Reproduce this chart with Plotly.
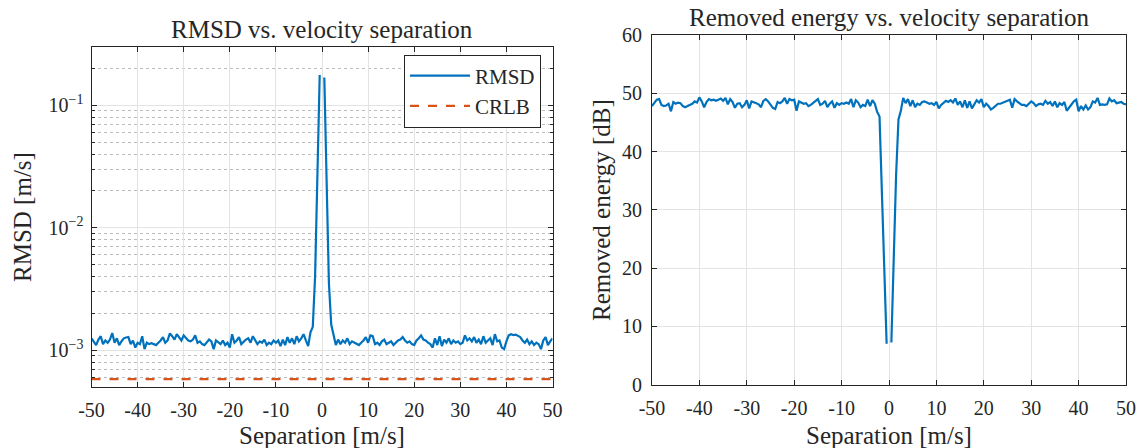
import plotly.graph_objects as go

# ---------------- data ----------------
sep = [round(-50 + 0.5 * i, 1) for i in range(201)]

rmsd_e3 = [
    1.25, 1.18, 1.10, 1.22, 1.30, 1.12, 1.20, 1.15, 1.22, 1.38, 1.15, 1.25, 1.10, 1.18, 1.25, 1.27, 1.28, 1.12, 1.20, 1.05,
    1.15, 1.12, 1.30, 1.02, 1.15, 1.12, 1.14, 1.12, 1.10, 1.15, 1.20, 1.28, 1.15, 1.20, 1.37, 1.30, 1.22, 1.35, 1.28, 1.20,
    1.32, 1.25, 1.20, 1.18, 1.22, 1.32, 1.15, 1.18, 1.12, 1.10, 1.15, 1.22, 1.18, 1.02, 1.20, 1.15, 1.12, 1.20, 1.10, 1.15,
    1.05, 1.35, 1.15, 1.20, 1.28, 1.12, 1.18, 1.22, 1.25, 1.15, 1.30, 1.20, 1.12, 1.18, 1.15, 1.22, 1.10, 1.15, 1.12, 1.20,
    1.15, 1.20, 1.08, 1.22, 1.10, 1.28, 1.15, 1.25, 1.12, 1.30, 1.18, 1.25, 1.35, 1.20, 1.08, 1.40, 1.55, 4.0, 25.0, 177.0,
    None,
    169.0, 20.0, 3.5, 1.62, 1.30, 1.10, 1.22, 1.12, 1.20, 1.15, 1.25,
    1.12, 1.18, 1.15, 1.12, 1.10, 1.15, 1.20, 1.28, 1.15, 1.32, 1.30, 1.12, 1.15, 1.10, 1.18, 1.22, 1.12, 1.15, 1.18, 1.10,
    1.15, 1.20, 1.22, 1.28, 1.20, 1.15, 1.18, 1.12, 1.10, 1.20, 1.25, 1.32, 1.22, 1.20, 1.15, 1.12, 1.05, 1.25, 1.10, 1.30,
    1.08, 1.22, 1.15, 1.25, 1.12, 1.20, 1.15, 1.18, 1.12, 1.15, 1.32, 1.20, 1.25, 1.18, 1.28, 1.15, 1.22, 1.12, 1.30, 1.15,
    1.20, 1.25, 1.10, 1.35, 1.18, 1.20, 1.05, 1.02, 1.18, 1.32, 1.35, 1.33, 1.34, 1.30, 1.28, 1.20, 1.15, 1.22, 1.12, 1.18,
    1.10, 1.15, 1.12, 1.02, 1.20, 1.28, 1.10, 1.18, 1.25,
]
rmsd = [None if v is None else v * 1e-3 for v in rmsd_e3]

crlb_value = 5.8e-4
crlb = [crlb_value for _ in sep]

energy_db = [
    47.8, 48.3, 48.9, 49.0, 48.0, 47.8, 47.9, 48.2, 46.9, 48.5, 48.2, 48.4, 48.3, 47.8, 47.6, 47.8, 48.0, 48.2, 48.6, 48.4,
    49.3, 48.6, 47.6, 48.5, 49.0, 48.8, 48.9, 48.7, 48.9, 49.1, 48.7, 49.2, 48.1, 49.0, 48.5, 47.5, 48.2, 48.3, 47.6, 48.0,
    48.8, 47.4, 48.6, 48.5, 48.3, 48.1, 47.6, 48.7, 49.0, 48.6, 48.0, 47.5, 47.3, 48.5, 48.3, 48.6, 49.2, 48.2, 49.0, 48.8,
    48.9, 47.0, 48.6, 48.4, 48.2, 48.3, 47.8, 48.0, 48.3, 48.6, 49.0, 48.0, 48.2, 48.7, 47.6, 48.2, 48.6, 47.5, 48.3, 48.0,
    48.3, 48.2, 48.4, 48.2, 49.0, 47.6, 48.8, 48.4, 47.6, 48.0, 47.8, 48.9, 47.8, 48.8, 48.2, 46.8, 46.0, 33.0, 20.0, 7.0,
    None,
    7.2, 22.0, 36.0, 45.5, 47.0, 49.2, 48.3, 49.0, 47.8, 48.8, 47.6,
    48.2, 48.0, 48.5, 48.6, 48.4, 48.2, 48.3, 48.0, 48.5, 47.4, 48.0, 48.4, 48.7, 48.5, 48.8, 48.4, 49.1, 48.0, 48.6, 47.6,
    48.8, 47.5, 48.6, 47.4, 48.0, 48.8, 48.4, 49.0, 47.6, 48.2, 47.8, 47.2, 47.5, 47.9, 48.2, 48.2, 48.4, 48.5, 48.7, 48.9,
    47.5, 49.0, 48.6, 48.3, 48.0, 48.0, 47.8, 48.2, 48.6, 48.3, 47.8, 48.1, 48.2, 48.0, 48.7, 48.2, 48.5, 47.8, 48.6, 47.6,
    48.3, 48.0, 48.5, 47.0, 47.6, 48.2, 48.6, 48.9, 46.9, 47.8, 47.2, 47.9, 47.2, 47.6, 48.6, 48.4, 49.2, 48.0, 48.1, 48.0,
    48.1, 49.1, 48.6, 48.8, 48.3, 48.4, 48.5, 48.2, 48.1,
]

assert len(rmsd) == len(sep) == len(energy_db)

x_ticks = [-50, -40, -30, -20, -10, 0, 10, 20, 30, 40, 50]
x_ticktext = ["-50", "-40", "-30", "-20", "-10", "0", "10", "20", "30", "40", "50"]
log_tickvals = [1e-3, 1e-2, 1e-1]
log_ticktext = ["10<sup>−3</sup>", "10<sup>−2</sup>", "10<sup>−1</sup>"]
lin_tickvals = [0, 10, 20, 30, 40, 50, 60]

# ---------------- styling ----------------
BLUE = "#0072BD"
ORANGE = "#D95319"
FONT = "Liberation Serif"
W, H = 1146, 448
LABEL_SIZE = 25
TICK_SIZE = 20

def px_x(p):
    return p / W

def px_y(p):
    return 1 - p / H

fig = go.Figure()
fig.add_trace(go.Scatter(x=sep, y=rmsd, mode="lines", name="RMSD",
                         line=dict(color=BLUE, width=2.2), xaxis="x", yaxis="y",
                         connectgaps=False))
fig.add_trace(go.Scatter(x=sep, y=crlb, mode="lines", name="CRLB",
                         line=dict(color=ORANGE, width=2.2, dash="dash"), xaxis="x", yaxis="y"))
fig.add_trace(go.Scatter(x=sep, y=energy_db, mode="lines", name="Removed energy",
                         line=dict(color=BLUE, width=2.2), xaxis="x2", yaxis="y2",
                         showlegend=False, connectgaps=False))

common_axis = dict(
    showline=True, linecolor="#262626", linewidth=1, mirror="allticks",
    ticks="inside", ticklen=5, tickcolor="#262626",
    showgrid=True, gridcolor="#e3e3e3", gridwidth=1, automargin=False,
    zeroline=False, tickfont=dict(family=FONT, size=TICK_SIZE, color="#262626"),
)

fig.update_layout(
    width=W, height=H,
    margin=dict(l=0, r=0, t=0, b=0, autoexpand=False),
    paper_bgcolor="white", plot_bgcolor="white",
    font=dict(family=FONT, color="#262626"),
    xaxis=dict(domain=[px_x(91.5), px_x(552.5)], range=[-50, 50], anchor="y",
               tickvals=x_ticks, ticktext=x_ticktext, ticklabelstandoff=5, **common_axis),
    yaxis=dict(domain=[px_y(387), px_y(47)], type="log",
               range=[-3.301, -0.523], anchor="x",
               tickvals=log_tickvals, ticktext=log_ticktext, ticklabelstandoff=3,
               minor=dict(dtick="D1", showgrid=True, gridcolor="#bdbdbd",
                          griddash="dot", ticks="inside", ticklen=3, tickcolor="#262626"),
               **common_axis),
    xaxis2=dict(domain=[px_x(652), px_x(1126)], range=[-50, 50], anchor="y2",
                tickvals=x_ticks, ticktext=x_ticktext, ticklabelstandoff=5, **common_axis),
    yaxis2=dict(domain=[px_y(384.5), px_y(35)], range=[0, 60], anchor="x2",
                tickvals=lin_tickvals, ticklabelstandoff=5, **common_axis),
    legend=dict(x=px_x(541), xanchor="right", y=px_y(54.5), yanchor="top",
                bgcolor="white", bordercolor="#262626", borderwidth=1,
                font=dict(family=FONT, size=21, color="#262626"),
                itemwidth=60, tracegroupgap=0),
    showlegend=True,
)

annotations = [
    dict(text="RMSD vs. velocity separation", x=px_x(322), y=px_y(30)),
    dict(text="Removed energy vs. velocity separation", x=px_x(889), y=px_y(17)),
    dict(text="Separation [m/s]", x=px_x(322), y=px_y(435)),
    dict(text="Separation [m/s]", x=px_x(889), y=px_y(435)),
    dict(text="RMSD [m/s]", x=px_x(22), y=px_y(217), textangle=-90),
    dict(text="Removed energy [dB]", x=px_x(601), y=px_y(210), textangle=-90),
]
for a in annotations:
    a.update(xref="paper", yref="paper", showarrow=False, xanchor="center", yanchor="middle",
             font=dict(family=FONT, size=LABEL_SIZE, color="#262626"))
fig.update_layout(annotations=annotations)

fig.write_html("out.html")
